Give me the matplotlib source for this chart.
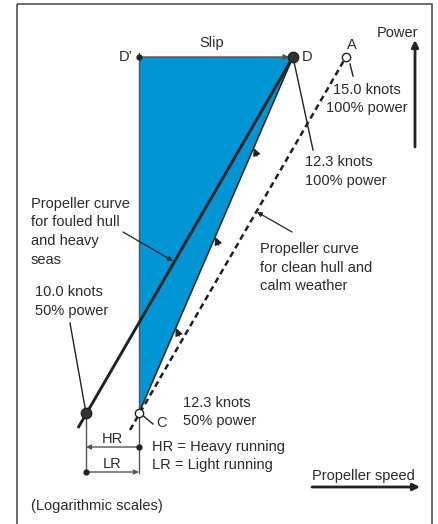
import matplotlib
matplotlib.use("Agg")
import matplotlib.pyplot as plt
from matplotlib.patches import Polygon, Rectangle

plt.rcParams['font.family'] = ['Liberation Sans', 'DejaVu Sans']

# ---- diagram data (drawing units, y downward) ----
slip_poly_x = [139, 293, 139]          # D', D, C
slip_poly_y = [57, 57, 413]
fouled_x = [78, 293]                   # fouled hull propeller curve
fouled_y = [428, 57]
clean_x = [130, 346]                   # clean hull propeller curve (dashed)
clean_y = [430, 57]
point_names = ["D", "A", "C", "F"]
point_x = [293, 346, 139, 86]
point_y = [57, 57, 413, 413]
edge_arrow_y = [148, 237, 328]         # arrowheads on C->D edge
hr_y, lr_y = 447, 472

TXT = '#2b2b2b'
LINE = '#222222'
GREY = '#555555'
BLUE = '#0096D6'
FS = 10.5

fig = plt.figure(figsize=(4.38, 5.24), dpi=100)
ax = fig.add_axes([0, 0, 1, 1])
ax.set_xlim(0, 438)
ax.set_ylim(524, 0)
ax.axis('off')

# frame
ax.add_patch(Rectangle((17, 4), 415, 530, fill=False, ec='#444444', lw=1.1, clip_on=False))

# blue slip region
ax.add_patch(Polygon(list(zip(slip_poly_x, slip_poly_y)), closed=True, fc=BLUE, ec='none', zorder=1))

def arrow(x0, y0, x1, y1, lw=0.9, color=LINE, ms=8, style='-|>'):
    ax.annotate('', xy=(x1, y1), xytext=(x0, y0),
                arrowprops=dict(arrowstyle=style, lw=lw, color=color, shrinkA=0, shrinkB=0,
                                mutation_scale=ms), zorder=4)

# vertical line at D'/C
ax.plot([139, 139], [53, lr_y + 1], color=GREY, lw=1.0, zorder=3)
# top edge D' -> D
arrow(139, 57, point_x[0] - 4, 57, lw=1.0, color=GREY, ms=8)
ax.plot([139], [57], 'o', color=LINE, ms=3.5, zorder=5)
# edge C -> D
ax.plot([slip_poly_x[2], slip_poly_x[1]], [slip_poly_y[2], slip_poly_y[1]], color=LINE, lw=1.1, zorder=3)
sl = (slip_poly_x[1] - slip_poly_x[2]) / (slip_poly_y[1] - slip_poly_y[2])
for ey in edge_arrow_y:
    ex = slip_poly_x[2] + (ey - slip_poly_y[2]) * sl
    arrow(ex - sl * 8, ey + 8, ex, ey, lw=1.0, ms=11)

# propeller curves
ax.plot(fouled_x, fouled_y, color=LINE, lw=2.1, zorder=3, solid_capstyle='butt')
ax.plot(clean_x, clean_y, color=LINE, lw=1.8, zorder=3, dashes=(2.4, 1.6))

# leaders
ax.plot([293, 313], [57, 150], color=LINE, lw=1.0, zorder=3)
ax.plot([350, 353], [64, 76], color=LINE, lw=1.0, zorder=3)
ax.plot([70, 86], [323, 413], color=LINE, lw=1.0, zorder=3)
ax.plot([141, 153], [414, 424], color=LINE, lw=1.0, zorder=3)
arrow(123, 232, 173, 261, lw=0.9, ms=7)
arrow(292, 232, 257, 212, lw=0.9, ms=7)

# points
ax.plot([point_x[0]], [point_y[0]], 'o', mfc='#333333', mec=LINE, ms=7.5, zorder=6)
ax.plot([point_x[1]], [point_y[1]], 'o', mfc='white', mec=LINE, ms=6, mew=1.0, zorder=6)
ax.plot([point_x[2]], [point_y[2]], 'o', mfc='white', mec=LINE, ms=6, mew=1.0, zorder=6)
ax.plot([point_x[3]], [point_y[3]], 'o', mfc='#333333', mec=LINE, ms=7.5, zorder=6)

# HR / LR dimension lines
ax.plot([86, 86], [413, lr_y + 1], color=GREY, lw=1.0, zorder=3)
arrow(139, hr_y, 86, hr_y, lw=1.0, color=GREY, ms=7)
ax.plot([139], [hr_y], 'o', color=LINE, ms=3.5, zorder=5)
arrow(86, lr_y, 139, lr_y, lw=1.0, color=GREY, ms=7)
ax.plot([86], [lr_y], 'o', color=LINE, ms=3.5, zorder=5)

# axis arrows
arrow(415, 147, 415, 40, lw=2.0, ms=10)
arrow(312, 487, 420, 487, lw=2.0, ms=10)

def t(x, y, s, ha='left'):
    ax.text(x, y, s, ha=ha, va='center', fontsize=FS, color=TXT, zorder=7)

t(212, 43, "Slip", 'center')
t(133, 57, "D\u2019", 'right')
t(302, 57, "D")
t(352, 45, "A", 'center')
t(397, 33, "Power", 'center')
t(367, 90, "15.0 knots", 'center')
t(367, 108, "100% power", 'center')
t(305, 162, "12.3 knots")
t(305, 181, "100% power")
for i, s in enumerate(["Propeller curve", "for fouled hull", "and heavy", "seas"]):
    t(31, 204 + 18.5 * i, s)
t(35, 292, "10.0 knots")
t(35, 311, "50% power")
for i, s in enumerate(["Propeller curve", "for clean hull and", "calm weather"]):
    t(260, 249 + 18.5 * i, s)
t(183, 403, "12.3 knots")
t(183, 421, "50% power")
t(156, 423, "C")
t(112, 439, "HR", 'center')
t(112, 464, "LR", 'center')
t(152, 447, "HR = Heavy running")
t(152, 465, "LR = Light running")
t(312, 476, "Propeller speed")
t(31, 506, "(Logarithmic scales)")

fig.savefig("out.png", dpi=100)
